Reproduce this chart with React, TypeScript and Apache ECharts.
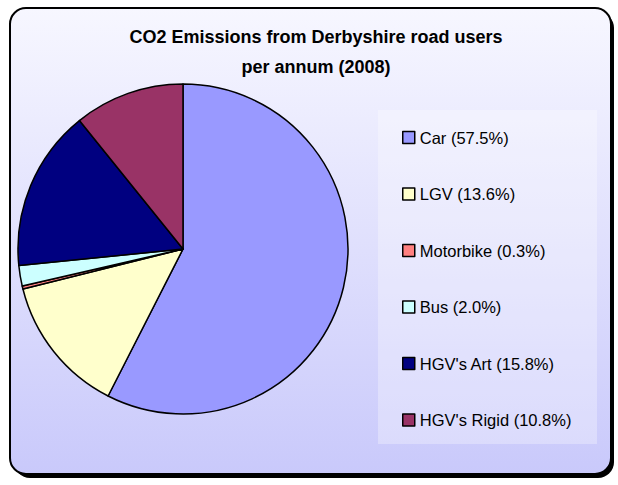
import React, { useEffect, useRef } from "react";
import * as echarts from "echarts";

const categories = ["Car", "LGV", "Motorbike", "Bus", "HGV's Art", "HGV's Rigid"];
const shares = [57.5, 13.6, 0.3, 2.0, 15.8, 10.8];
const colors = ["#9999FF", "#FFFFCC", "#FF8080", "#CCFFFF", "#000080", "#993366"];

export default function App() {
  const ref = useRef<HTMLDivElement>(null);
  useEffect(() => {
    const chart = echarts.init(ref.current!, null, { renderer: "svg" });
    const labelOf: Record<string, string> = {};
    categories.forEach((c, i) => {
      labelOf[c] = `${c} (${shares[i].toFixed(1)}%)`;
    });
    chart.setOption({
      animation: false,
      graphic: [
        {
          type: "rect",
          z: -10,
          silent: true,
          shape: { x: 14, y: 12, width: 600, height: 466, r: 16 },
          style: { fill: "#000" },
        },
        {
          type: "rect",
          z: -9,
          silent: true,
          shape: { x: 10, y: 8, width: 601, height: 466, r: 16 },
          style: {
            fill: new echarts.graphic.LinearGradient(0, 0, 0, 1, [
              { offset: 0, color: "#F7F7FF" },
              { offset: 1, color: "#C9C9FB" },
            ]),
            stroke: "#000",
            lineWidth: 2,
          },
        },
        {
          type: "rect",
          z: -8,
          silent: true,
          shape: { x: 378, y: 110, width: 219, height: 334 },
          style: { fill: "rgba(255,255,255,0.3)" },
        },
      ],
      title: {
        text: "CO2 Emissions from Derbyshire road users\nper annum (2008)",
        left: 311,
        top: 17,
        textAlign: "center",
        textStyle: {
          fontFamily: "Liberation Sans, Arial, sans-serif",
          fontWeight: "bold",
          fontSize: 18,
          lineHeight: 30,
          color: "#000",
        },
      },
      legend: {
        orient: "vertical",
        left: 378,
        top: 110,
        padding: [19, 0, 0, 24],
        itemWidth: 12,
        itemHeight: 12,
        itemGap: 39.5,
        icon: "rect",
        selectedMode: false,
        formatter: (name: string) => labelOf[name],
        textStyle: {
          fontFamily: "Liberation Sans, Arial, sans-serif",
          fontSize: 16.5,
          color: "#000",
          padding: [0, 0, 0, 0],
        },
        itemStyle: { borderColor: "#000", borderWidth: 1.5 },
        data: categories,
      },
      series: [
        {
          type: "pie",
          center: [183, 249],
          radius: 165,
          startAngle: 90,
          clockwise: true,
          silent: true,
          label: { show: false },
          labelLine: { show: false },
          itemStyle: { borderColor: "#000", borderWidth: 1.5 },
          data: categories.map((c, i) => ({
            name: c,
            value: shares[i],
            itemStyle: { color: colors[i] },
          })),
        },
      ],
    });
    return () => chart.dispose();
  }, []);
  return (
    <div
      ref={ref}
      style={{ position: "fixed", left: 0, top: 0, width: 618, height: 485, background: "#fff" }}
    />
  );
}
